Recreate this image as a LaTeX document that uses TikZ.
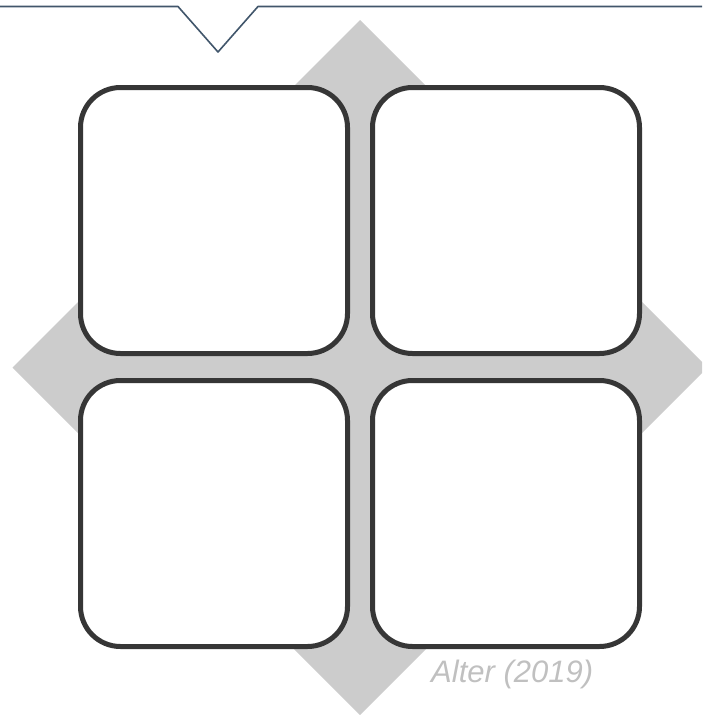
\documentclass[tikz,border=0pt]{standalone}
\usepackage{fontspec}
\setmainfont{Liberation Sans}
\usetikzlibrary{positioning, calc}

\definecolor{linieblau}{HTML}{41566B}
\definecolor{rautegrau}{HTML}{CCCCCC}
\definecolor{rahmen}{HTML}{363636}
\definecolor{quelle}{HTML}{C0C0C0}

\tikzset{
  feld/.style={draw=rahmen, line width=5pt, fill=white, rounded corners=40pt,
    minimum width=267pt, minimum height=266pt, inner sep=0pt}
}

\begin{document}
\begin{tikzpicture}[x=1pt, y=-1pt, line join=round, line cap=round]
    \clip (0,0) rectangle (702,715);
    \useasboundingbox (0,0) rectangle (702,715);

    % Kopflinie mit Kerbe
    \coordinate (L0) at (-2,6.5);
    \coordinate (K1) at (178,6.5);
    \coordinate (K2) at (218,52);
    \coordinate (K3) at (258,6.5);
    \coordinate (L1) at (704,6.5);
    \draw[linieblau, line width=1.6pt] (L0) -- (K1) -- (K2) -- (K3) -- (L1);

    % Raute
    \coordinate (M) at (360,367.5);
    \fill[rautegrau] ($(M)+(0,-347.5)$) -- ($(M)+(347.5,0)$) -- ($(M)+(0,347.5)$) -- ($(M)+(-347.5,0)$) -- cycle;

    % vier Felder
    \node[feld] (f1) at (214,220.5) {};
    \node[feld, right=20pt of f1] (f2) {};
    \node[feld, below=22pt of f1] (f3) {};
    \node[feld, right=20pt of f3] (f4) {};

    \node[quelle, font=\itshape\fontsize{31}{33}\selectfont, anchor=base west, inner sep=0pt] (src) at (431,682) {Alter (2019)};
\end{tikzpicture}
\end{document}
